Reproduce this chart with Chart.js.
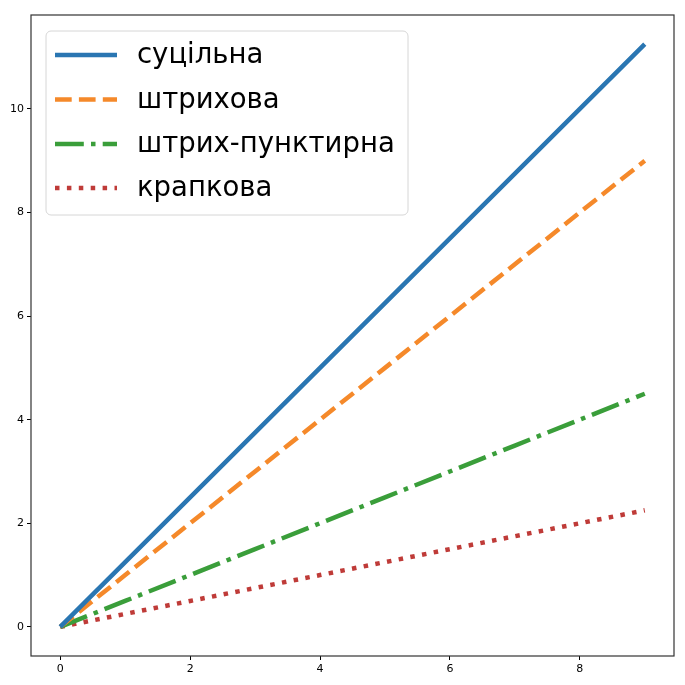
<!DOCTYPE html>
<html>
<head>
<meta charset="utf-8">
<script src="https://cdn.jsdelivr.net/npm/chart.js@4.4.0/dist/chart.umd.min.js"></script>
<style>
html,body{margin:0;padding:0;background:#fff;}
#wrap{width:685px;height:685px;}
</style>
</head>
<body>
<div id="wrap"><canvas id="c" width="685" height="685"></canvas></div>
<script>
const xValues = [0, 1, 2, 3, 4, 5, 6, 7, 8, 9];
const solidValues = [0, 1.25, 2.5, 3.75, 5, 6.25, 7.5, 8.75, 10, 11.25];
const dashedValues = [0, 1, 2, 3, 4, 5, 6, 7, 8, 9];
const dashDotValues = [0, 0.5, 1, 1.5, 2, 2.5, 3, 3.5, 4, 4.5];
const dottedValues = [0, 0.25, 0.5, 0.75, 1, 1.25, 1.5, 1.75, 2, 2.25];
const seriesLabels = ['суцільна', 'штрихова', 'штрих-пунктирна', 'крапкова'];
const xTicks = [0, 2, 4, 6, 8];
const yTicks = [0, 2, 4, 6, 8, 10];

const LW = 4.5;
const colors = ['#2a76b2', '#f5892a', '#3a9e3a', '#bf3b38'];
const dashes = [[], [16.7, 7.2], [28.8, 7.2, 4.5, 7.2], [4.5, 7.4]];
const allSeries = [solidValues, dashedValues, dashDotValues, dottedValues];

const datasets = allSeries.map((vals, i) => ({
  label: seriesLabels[i],
  data: xValues.map((x, k) => ({x: x, y: vals[k]})),
  borderColor: colors[i],
  backgroundColor: colors[i],
  borderWidth: LW,
  borderDash: dashes[i],
  borderCapStyle: 'butt',
  pointRadius: 0,
  fill: false,
  tension: 0
}));

const framePlugin = {
  id: 'frame',
  afterDraw(chart) {
    const {ctx, chartArea: a} = chart;
    ctx.save();
    ctx.strokeStyle = '#333';
    ctx.lineWidth = 1.2;
    ctx.strokeRect(a.left, a.top, a.right - a.left, a.bottom - a.top);
    ctx.restore();
  }
};

const legendPlugin = {
  id: 'boxLegend',
  afterDraw(chart) {
    const ctx = chart.ctx;
    const bx = 46, by = 31, bw = 362, bh = 184, r = 5;
    ctx.save();
    ctx.beginPath();
    ctx.moveTo(bx + r, by);
    ctx.arcTo(bx + bw, by, bx + bw, by + bh, r);
    ctx.arcTo(bx + bw, by + bh, bx, by + bh, r);
    ctx.arcTo(bx, by + bh, bx, by, r);
    ctx.arcTo(bx, by, bx + bw, by, r);
    ctx.closePath();
    ctx.fillStyle = 'rgba(255,255,255,0.8)';
    ctx.fill();
    ctx.strokeStyle = '#d6d6d6';
    ctx.lineWidth = 1;
    ctx.stroke();
    const rowY = [55, 99.5, 144, 188];
    chart.data.datasets.forEach((ds, i) => {
      const y = rowY[i];
      ctx.beginPath();
      ctx.setLineDash(ds.borderDash);
      ctx.lineCap = 'butt';
      ctx.strokeStyle = ds.borderColor;
      ctx.lineWidth = LW;
      ctx.moveTo(55, y);
      ctx.lineTo(117, y);
      ctx.stroke();
      ctx.setLineDash([]);
      ctx.fillStyle = '#000';
      ctx.font = '27.5px "DejaVu Sans"';
      ctx.textBaseline = 'middle';
      ctx.fillText(ds.label, 137, y + 1);
    });
    ctx.restore();
  }
};

new Chart(document.getElementById('c'), {
  type: 'line',
  data: { datasets: datasets },
  plugins: [framePlugin, legendPlugin],
  options: {
    responsive: false,
    animation: false,
    devicePixelRatio: 1,
    layout: { padding: { top: 15, right: 11, left: 0, bottom: 0 } },
    plugins: { legend: { display: false }, tooltip: { enabled: false } },
    scales: {
      x: {
        type: 'linear',
        min: -0.45,
        max: 9.45,
        afterBuildTicks(s) { s.ticks = xTicks.map(v => ({value: v})); },
        afterFit(s) { s.height = 29; },
        grid: { display: true, drawOnChartArea: false, drawTicks: true, tickLength: 4, color: '#000', tickWidth: 1 },
        border: { display: false },
        ticks: { color: '#000', font: { family: 'DejaVu Sans', size: 11 }, padding: 3, maxRotation: 0 }
      },
      y: {
        type: 'linear',
        min: -0.5625,
        max: 11.8125,
        afterBuildTicks(s) { s.ticks = yTicks.map(v => ({value: v})); },
        afterFit(s) { s.width = 31; },
        grid: { display: true, drawOnChartArea: false, drawTicks: true, tickLength: 4, color: '#000', tickWidth: 1 },
        border: { display: false },
        ticks: { color: '#000', font: { family: 'DejaVu Sans', size: 11 }, padding: 3 }
      }
    }
  }
});
</script>
</body>
</html>
